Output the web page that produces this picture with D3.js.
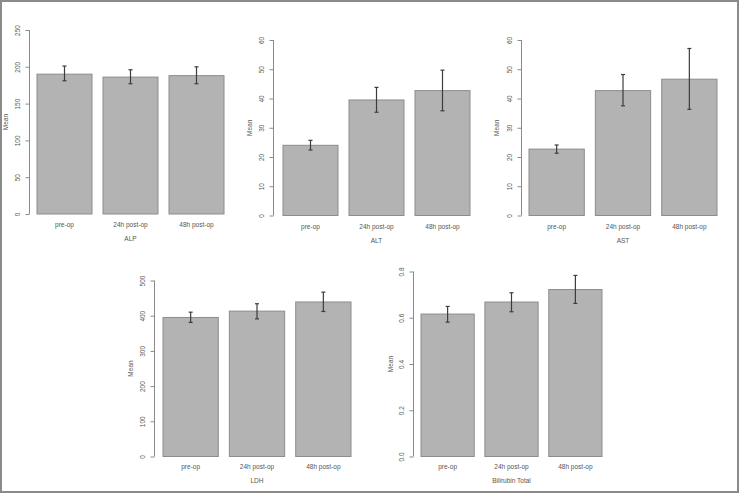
<!DOCTYPE html>
<html>
<head>
<meta charset="utf-8">
<script src="https://cdn.jsdelivr.net/npm/d3@7"></script>
<style>
  body { margin: 0; background: #fff; }
  text { font-family: "Liberation Sans", Arial, sans-serif; fill: #555; }
</style>
</head>
<body>
<div id="chart"></div>
<script>

// categories on every panel
var categories = ["pre-op", "24h post-op", "48h post-op"];

// ALP
var alpMean = [190, 186, 188];
var alpLow = [181, 177, 177];
var alpHigh = [201, 196, 200];
var alpTicks = [0, 50, 100, 150, 200, 250];

// ALT
var altMean = [24.0, 39.5, 42.7];
var altLow = [22.4, 35.3, 35.8];
var altHigh = [25.7, 43.8, 49.7];
var altTicks = [0, 10, 20, 30, 40, 50, 60];

// AST
var astMean = [22.7, 42.7, 46.6];
var astLow = [21.3, 37.5, 36.3];
var astHigh = [24.1, 48.2, 57.1];
var astTicks = [0, 10, 20, 30, 40, 50, 60];

// LDH
var ldhMean = [395, 413, 439];
var ldhLow = [381, 391, 412];
var ldhHigh = [410, 434, 467];
var ldhTicks = [0, 100, 200, 300, 400, 500];

// Bilirubin Total
var bilMean = [0.616, 0.668, 0.722];
var bilLow = [0.581, 0.626, 0.662];
var bilHigh = [0.649, 0.708, 0.783];
var bilTicks = [0, 0.2, 0.4, 0.6, 0.8];

var W = 739, H = 493;

var svg = d3.select("#chart")
            .append("svg")
            .attr("width", W)
            .attr("height", H);

// outer grey frame
svg.append("rect")
   .attr("x", 1).attr("y", 1)
   .attr("width", 737).attr("height", 491)
   .attr("fill", "#fff")
   .attr("stroke", "#8a8a8a")
   .attr("stroke-width", 2);

// panel layout (pixel positions of axis and bars)
var panels = [
  {title: "ALP", mean: alpMean, lo: alpLow, hi: alpHigh, ticks: alpTicks, fmt: d3.format("d"),
   axisX: 29.5, y0: 214, y1: 30, barL: 37, barR: 224, catY: 225, titleY: 239, meanX: 6},
  {title: "ALT", mean: altMean, lo: altLow, hi: altHigh, ticks: altTicks, fmt: d3.format("d"),
   axisX: 273.5, y0: 215.5, y1: 40, barL: 283, barR: 470, catY: 227, titleY: 241, meanX: 250},
  {title: "AST", mean: astMean, lo: astLow, hi: astHigh, ticks: astTicks, fmt: d3.format("d"),
   axisX: 521.5, y0: 215.5, y1: 40, barL: 529, barR: 717, catY: 227, titleY: 241, meanX: 497},
  {title: "LDH", mean: ldhMean, lo: ldhLow, hi: ldhHigh, ticks: ldhTicks, fmt: d3.format("d"),
   axisX: 154.5, y0: 456.5, y1: 280.5, barL: 163, barR: 351, catY: 467, titleY: 481, meanX: 131},
  {title: "Bilirubin Total", mean: bilMean, lo: bilLow, hi: bilHigh, ticks: bilTicks, fmt: d3.format(".1f"),
   axisX: 413.5, y0: 456.5, y1: 271.5, barL: 421, barR: 602, catY: 467, titleY: 481, meanX: 391}
];

panels.forEach(function(p) {
  var g = svg.append("g");
  var top = p.ticks[p.ticks.length - 1];

  var x = d3.scaleBand()
      .domain(categories)
      .range([p.barL, p.barR])
      .paddingInner(1 / 6)
      .paddingOuter(0);

  var y = d3.scaleLinear()
      .domain([0, top])
      .range([p.y0, p.y1]);

  var data = categories.map(function(c, i) {
    return {cat: c, mean: p.mean[i], lo: p.lo[i], hi: p.hi[i]};
  });

  // bars
  g.selectAll(".bar")
    .data(data)
    .enter()
    .append("rect")
      .attr("class", "bar")
      .attr("x", function(d) { return x(d.cat); })
      .attr("width", x.bandwidth())
      .attr("y", function(d) { return y(d.mean); })
      .attr("height", function(d) { return y(0) - y(d.mean); })
      .attr("fill", "#b3b3b3")
      .attr("stroke", "#8c8c8c")
      .attr("stroke-width", 1);

  // error bars
  var eb = g.selectAll(".err")
    .data(data)
    .enter()
    .append("g")
      .attr("class", "err")
      .attr("stroke", "#3c3c3c")
      .attr("stroke-width", 1.2);

  eb.append("line")
    .attr("x1", function(d) { return x(d.cat) + x.bandwidth() / 2; })
    .attr("x2", function(d) { return x(d.cat) + x.bandwidth() / 2; })
    .attr("y1", function(d) { return y(d.lo); })
    .attr("y2", function(d) { return y(d.hi); });

  ["lo", "hi"].forEach(function(k) {
    eb.append("line")
      .attr("x1", function(d) { return x(d.cat) + x.bandwidth() / 2 - 2; })
      .attr("x2", function(d) { return x(d.cat) + x.bandwidth() / 2 + 2; })
      .attr("y1", function(d) { return y(d[k]); })
      .attr("y2", function(d) { return y(d[k]); });
  });

  // y axis, R style: labels parallel to axis
  var ax = g.append("g")
      .attr("transform", "translate(" + p.axisX + ",0)")
      .call(d3.axisLeft(y).tickValues(p.ticks).tickSize(4).tickSizeOuter(0).tickFormat(p.fmt));
  ax.select(".domain")
    .attr("stroke", "#8a8a8a")
    .attr("d", "M0," + y(0) + "V" + y(top));
  ax.selectAll(".tick line").attr("stroke", "#8a8a8a");
  ax.selectAll(".tick text")
    .attr("x", null).attr("dy", null)
    .attr("transform", "translate(-10,0) rotate(-90)")
    .attr("text-anchor", "middle")
    .attr("font-size", 6.5)
    .attr("fill", "#555");

  // category labels
  g.selectAll(".cat")
    .data(categories)
    .enter()
    .append("text")
      .attr("x", function(d) { return x(d) + x.bandwidth() / 2; })
      .attr("y", p.catY)
      .attr("dy", "0.35em")
      .attr("text-anchor", "middle")
      .attr("font-size", 6.5)
      .text(function(d) { return d; });

  // x title
  g.append("text")
    .attr("x", (p.barL + p.barR) / 2)
    .attr("y", p.titleY)
    .attr("dy", "0.35em")
    .attr("text-anchor", "middle")
    .attr("font-size", 6.5)
    .text(p.title);

  // y title
  g.append("text")
    .attr("transform", "translate(" + p.meanX + "," + (p.y0 + p.y1) / 2 + ") rotate(-90)")
    .attr("dy", "0.35em")
    .attr("text-anchor", "middle")
    .attr("font-size", 6.5)
    .text("Mean");
});

</script>
</body>
</html>
